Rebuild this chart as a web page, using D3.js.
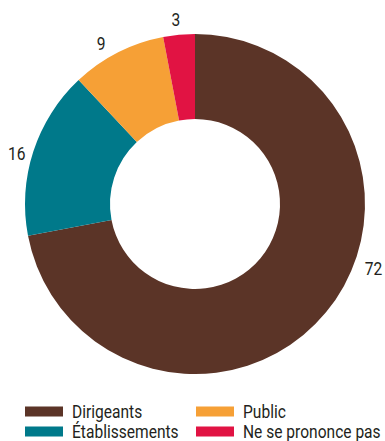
<!DOCTYPE html>
<html><head><meta charset="utf-8">
<script src="https://cdn.jsdelivr.net/npm/d3@7"></script>
<style>body{margin:0;background:#fff}svg{display:block}text{font-family:Roboto,"Liberation Sans",sans-serif;fill:#231f20}</style>
</head><body><svg id="c" width="385" height="441"></svg>
<script>
const categories = ["Dirigeants", "Établissements", "Public", "Ne se prononce pas"];
const values = [72, 16, 9, 3];
const colors = ["#5b3427", "#00798a", "#f6a036", "#e11343"];

const W = 385, H = 441, cx = 195, cy = 204, R = 170, r0 = 85;
const FS = 17.5, SX = 0.89;
const labelR = [190, 185, 185, 185];
const labelAngleShift = [-19.5, -2.5, -3.5, -0.5]; // degrees

const svg = d3.select("#c");
const g = svg.append("g").attr("transform", `translate(${cx},${cy})`);
const pie = d3.pie().sort(null).value(d => d)(values);
const arc = d3.arc().innerRadius(r0).outerRadius(R);
const color = d3.scaleOrdinal().domain(categories).range(colors);

g.selectAll("path").data(pie).join("path")
  .attr("d", arc).attr("fill", (d, i) => color(categories[i]));

g.selectAll("text.v").data(pie).join("text").attr("class", "v")
  .attr("transform", (d, i) => {
    const a = (d.startAngle + d.endAngle) / 2 + labelAngleShift[i] * Math.PI / 180;
    const x = Math.sin(a) * labelR[i], y = -Math.cos(a) * labelR[i];
    return `translate(${x},${y}) scale(${SX},1)`;
  })
  .attr("text-anchor", "middle").attr("dominant-baseline", "central")
  .attr("font-size", FS).text(d => d.data);

const legend = svg.append("g");
const cols = [25, 196], rows = [411.5, 431.5];
const order = [[0, 0], [0, 1], [1, 0], [1, 1]]; // [col,row] per category
categories.forEach((c, i) => {
  const [ci, ri] = order[i];
  const lg = legend.append("g").attr("transform", `translate(${cols[ci]},${rows[ri]})`);
  lg.append("rect").attr("x", 0).attr("y", -5).attr("width", 38).attr("height", 10).attr("fill", color(c));
  lg.append("text").attr("transform", `translate(47,6) scale(${SX},1)`).attr("font-size", FS).text(c);
});
</script></body></html>
